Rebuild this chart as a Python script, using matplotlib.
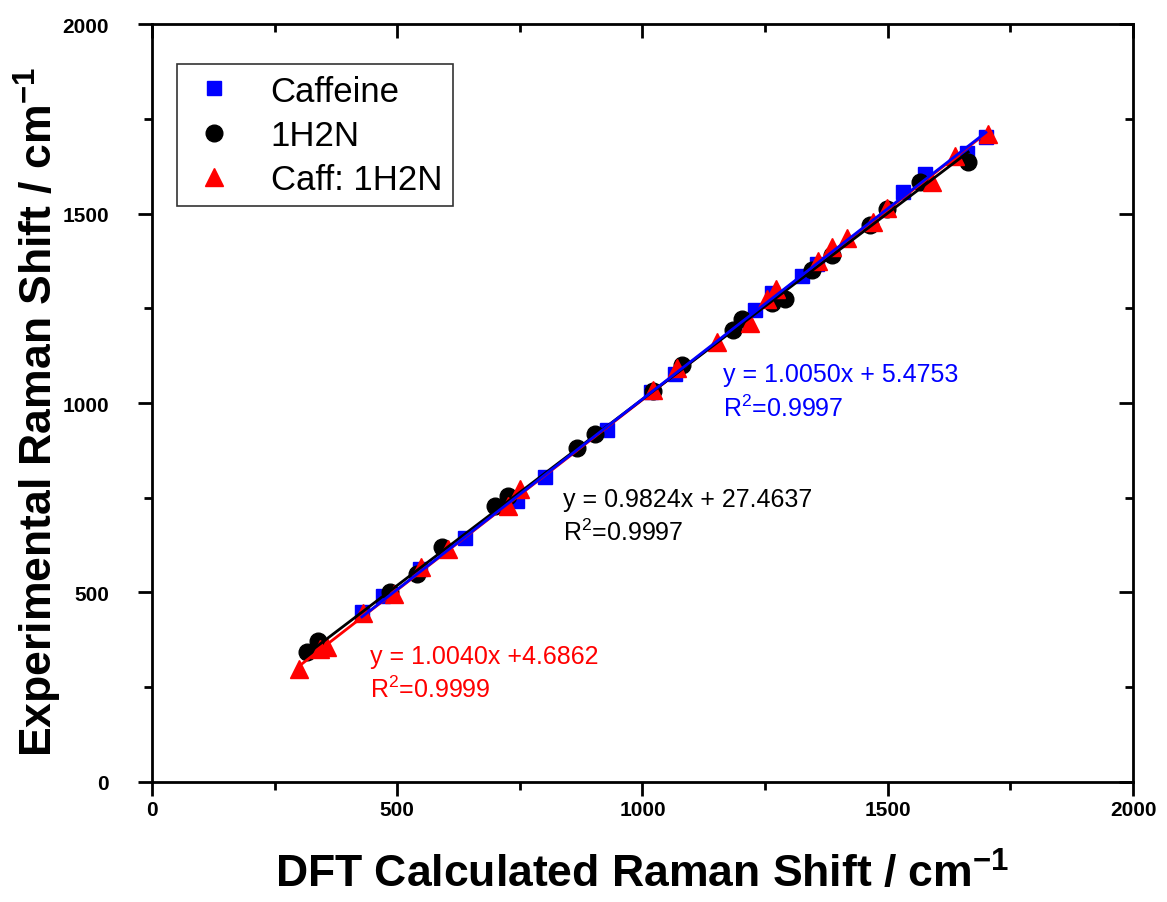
import matplotlib
matplotlib.use("Agg")
import matplotlib.pyplot as plt
import numpy as np
from matplotlib.ticker import MultipleLocator

plt.rcParams['font.family'] = ['Liberation Sans', 'DejaVu Sans']
plt.rcParams['mathtext.fontset'] = 'custom'
plt.rcParams['mathtext.rm'] = 'Liberation Sans'
plt.rcParams['mathtext.bf'] = 'Liberation Sans:bold'
plt.rcParams['mathtext.it'] = 'Liberation Sans:italic'

# Caffeine (DFT, experimental)
caf_x = [428, 471, 546, 638, 744, 801, 928, 1018, 1066, 1229, 1264, 1325, 1356, 1531, 1576, 1661, 1700]
caf_y = [448, 490, 562, 645, 741, 805, 930, 1030, 1076, 1245, 1290, 1336, 1368, 1557, 1605, 1660, 1702]

# 1H2N
h2n_x = [316, 338, 485, 540, 591, 699, 726, 866, 903, 1022, 1080, 1184, 1203, 1264, 1290, 1345, 1386, 1464, 1498, 1566, 1664]
h2n_y = [343, 372, 502, 549, 621, 728, 755, 882, 918, 1031, 1101, 1193, 1222, 1263, 1274, 1351, 1391, 1470, 1512, 1584, 1636]

# Caff:1H2N
co_x = [300, 343, 357, 430, 493, 548, 604, 726, 750, 1021, 1070, 1152, 1219, 1254, 1272, 1358, 1386, 1417, 1470, 1498, 1590, 1637, 1704]
co_y = [298, 350, 355, 446, 496, 568, 615, 728, 773, 1035, 1093, 1162, 1210, 1274, 1301, 1375, 1412, 1436, 1477, 1515, 1583, 1652, 1710]

fits = {
    'caf': (1.0050, 5.4753),
    'h2n': (0.9824, 27.4637),
    'co': (1.0040, 4.6862),
}

fig = plt.figure(figsize=(11.67, 9.03), dpi=100)
ax = fig.add_axes([0.1302, 0.1329, 0.8407, 0.8394])

ax.plot(caf_x, caf_y, 's', color='#0000ff', markersize=10, label='Caffeine', zorder=3)
ax.plot(h2n_x, h2n_y, 'o', color='black', markersize=12, label='1H2N', zorder=3)
ax.plot(co_x, co_y, '^', color='#ff0000', markersize=13, label='Caff: 1H2N', zorder=3)

for xs, key, col in [(co_x, 'co', '#ff0000'), (h2n_x, 'h2n', 'black'), (caf_x, 'caf', '#0000ff')]:
    m, b = fits[key]
    xx = np.array([min(xs), max(xs)])
    ax.plot(xx, m * xx + b, '-', color=col, lw=2, zorder=4)

ax.set_xlim(0, 2000)
ax.set_ylim(0, 2000)
ax.xaxis.set_major_locator(MultipleLocator(500))
ax.yaxis.set_major_locator(MultipleLocator(500))
ax.xaxis.set_minor_locator(MultipleLocator(250))
ax.yaxis.set_minor_locator(MultipleLocator(250))
for s in ax.spines.values():
    s.set_linewidth(2)
ax.tick_params(which='both', direction='out', width=2, top=False, right=False)
ax.tick_params(which='major', length=10, labelsize=15)
ax.tick_params(which='minor', length=6)
ax.tick_params(axis='x', which='major', pad=3)
ax.tick_params(axis='y', which='major', pad=21)
for lab in ax.get_xticklabels() + ax.get_yticklabels():
    lab.set_fontweight('bold')

# top/right inward ticks
axt = ax.secondary_xaxis('top')
axt.xaxis.set_major_locator(MultipleLocator(500))
axt.xaxis.set_minor_locator(MultipleLocator(250))
axt.tick_params(which='both', direction='in', width=2, labeltop=False)
axt.tick_params(which='major', length=10)
axt.tick_params(which='minor', length=6)
axr = ax.secondary_yaxis('right')
axr.yaxis.set_major_locator(MultipleLocator(500))
axr.yaxis.set_minor_locator(MultipleLocator(250))
axr.tick_params(which='both', direction='in', width=2, labelright=False)
axr.tick_params(which='major', length=10)
axr.tick_params(which='minor', length=6)

ax.set_xlabel('DFT Calculated Raman Shift / cm$^{\\mathbf{-1}}$', fontsize=32, fontweight='bold')
ax.set_ylabel('Experimental Raman Shift / cm$^{\\mathbf{-1}}$', fontsize=32, fontweight='bold')
ax.xaxis.set_label_coords(0.5, -0.092)
ax.yaxis.set_label_coords(-0.09, 0.49)

fs = 18
ax.text(1164, 1076, 'y = 1.0050x + 5.4753', color='#0000ff', fontsize=fs, va='center')
ax.text(1164, 988, 'R$^2$=0.9997', color='#0000ff', fontsize=fs, va='center')
ax.text(838, 747, 'y = 0.9824x + 27.4637', color='black', fontsize=fs, va='center')
ax.text(838, 659, 'R$^2$=0.9997', color='black', fontsize=fs, va='center')
ax.text(444, 333, 'y = 1.0040x +4.6862', color='#ff0000', fontsize=fs, va='center')
ax.text(444, 245, 'R$^2$=0.9999', color='#ff0000', fontsize=fs, va='center')

leg = ax.legend(loc='upper left', bbox_to_anchor=(0.0255, 0.947), fontsize=25, frameon=True,
                fancybox=False, edgecolor='black', borderpad=0.3, labelspacing=0.32,
                handletextpad=0.85, handlelength=1.55, borderaxespad=0, markerscale=1.0)
leg.get_frame().set_linewidth(1.2)

fig.savefig('out.png', dpi=100)
